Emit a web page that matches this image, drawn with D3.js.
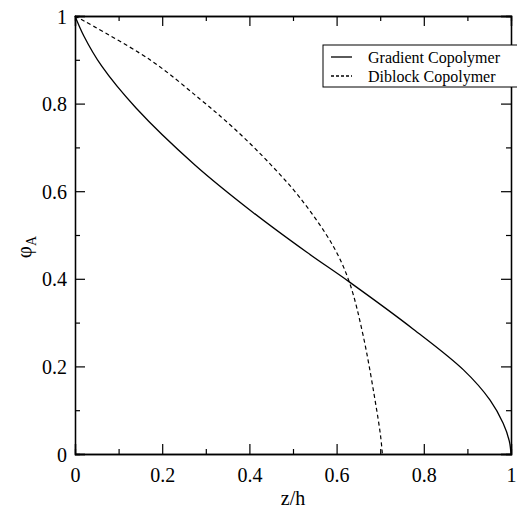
<!DOCTYPE html>
<html>
<head>
<meta charset="utf-8">
<script src="https://cdn.jsdelivr.net/npm/d3@7"></script>
<style>
  body { margin: 0; background: #fff; }
  svg text { font-family: "Liberation Serif", "DejaVu Serif", serif !important; }
</style>
</head>
<body>
<div id="chart"></div>
<script>
// z/h vs phi_A
var gradientX = [0, 0.02, 0.061, 0.14, 0.275, 0.409, 0.531, 0.629, 0.776, 0.891, 0.952, 0.982, 0.996, 1];
var gradientY = [1, 0.955, 0.886, 0.79, 0.66, 0.551, 0.461, 0.393, 0.285, 0.192, 0.123, 0.07, 0.03, 0];

var diblockX = [0, 0.172, 0.287, 0.363, 0.44, 0.516, 0.592, 0.629, 0.661, 0.692, 0.701, 0.705];
var diblockY = [1, 0.9, 0.81, 0.745, 0.67, 0.585, 0.475, 0.393, 0.27, 0.1, 0.04, 0];

var seriesNames = ["Gradient Copolymer", "Diblock Copolymer"];
var majorTicks = [0, 0.2, 0.4, 0.6, 0.8, 1];
var minorTicks = [0.1, 0.3, 0.5, 0.7, 0.9];

var W = 517, H = 516;
var margin = { left: 75, right: 6, top: 16, bottom: 62 };
var width = W - margin.left - margin.right,
    height = H - margin.top - margin.bottom;

var svg = d3.select("#chart").append("svg")
    .attr("width", W)
    .attr("height", H);

var g = svg.append("g")
    .attr("transform", "translate(" + margin.left + "," + margin.top + ")");

var x = d3.scaleLinear().domain([0, 1]).range([0, width]);
var y = d3.scaleLinear().domain([0, 1]).range([height, 0]);

function fmt(d) { return d === 0 ? "0" : d === 1 ? "1" : d3.format(".1f")(d); }

// bottom and left axes with labels, inward ticks
g.append("g").attr("transform", "translate(0," + height + ")")
    .call(d3.axisBottom(x).tickValues(majorTicks).tickSize(-10).tickPadding(14).tickFormat(fmt));
var yAxis = g.append("g")
    .call(d3.axisLeft(y).tickValues(majorTicks).tickSize(-10).tickPadding(8).tickFormat(fmt));

// top and right mirrored
g.append("g")
    .call(d3.axisTop(x).tickValues(majorTicks).tickSize(-10).tickFormat(""));
g.append("g").attr("transform", "translate(" + width + ",0)")
    .call(d3.axisRight(y).tickValues(majorTicks).tickSize(-10).tickFormat(""));

// minor ticks
g.append("g").attr("transform", "translate(0," + height + ")")
    .call(d3.axisBottom(x).tickValues(minorTicks).tickSize(-5).tickFormat(""));
g.append("g")
    .call(d3.axisTop(x).tickValues(minorTicks).tickSize(-5).tickFormat(""));
g.append("g")
    .call(d3.axisLeft(y).tickValues(minorTicks).tickSize(-5).tickFormat(""));
g.append("g").attr("transform", "translate(" + width + ",0)")
    .call(d3.axisRight(y).tickValues(minorTicks).tickSize(-5).tickFormat(""));

g.selectAll(".domain").attr("stroke", "#000").attr("stroke-width", 1.3);
g.selectAll(".tick line").attr("stroke", "#000").attr("stroke-width", 1.2);
g.selectAll(".tick text").style("font-size", "20px").attr("fill", "#000");
yAxis.selectAll(".tick text").attr("dy", "0.35em");

// curves
var line = d3.line()
    .x(function(d) { return x(d[0]); })
    .y(function(d) { return y(d[1]); })
    .curve(d3.curveCatmullRom.alpha(0.5));

var gradient = gradientX.map(function(v, i) { return [v, gradientY[i]]; });
var diblock = diblockX.map(function(v, i) { return [v, diblockY[i]]; });

g.append("path").datum(gradient)
    .attr("fill", "none").attr("stroke", "#000").attr("stroke-width", 1.3)
    .attr("d", line);
g.append("path").datum(diblock)
    .attr("fill", "none").attr("stroke", "#000").attr("stroke-width", 1.2)
    .attr("stroke-dasharray", "4,3")
    .attr("d", line);

// legend
var legend = svg.append("g").attr("transform", "translate(323,45)");
legend.append("rect")
    .attr("width", 200).attr("height", 42)
    .attr("fill", "#fff").attr("stroke", "#000").attr("stroke-width", 1);
seriesNames.forEach(function(name, i) {
    var row = legend.append("g").attr("transform", "translate(0," + (12 + i * 19) + ")");
    row.append("line")
        .attr("x1", 8).attr("x2", 29)
        .attr("stroke", "#000").attr("stroke-width", 1.3)
        .attr("stroke-dasharray", i === 1 ? "3,2" : null);
    row.append("text")
        .attr("x", 45).attr("y", 5.5)
        .style("font-size", "16px")
        .text(name);
});

// axis titles
svg.append("text")
    .attr("x", margin.left + width / 2)
    .attr("y", 505)
    .attr("text-anchor", "middle")
    .style("font-size", "20px")
    .text("z/h");

var yTitle = svg.append("text")
    .attr("transform", "translate(31," + (margin.top + height / 2 + 12) + ") rotate(-90)")
    .attr("text-anchor", "middle")
    .style("font-size", "21px");
yTitle.append("tspan").text("\u03c6");
yTitle.append("tspan").attr("dy", 5).style("font-size", "14px").text("A");
</script>
</body>
</html>
